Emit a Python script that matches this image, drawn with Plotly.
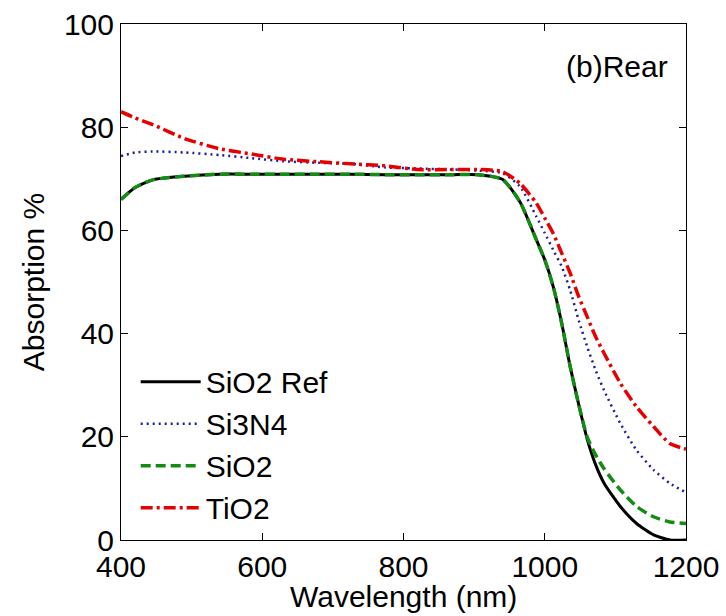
import plotly.graph_objects as go

wavelength = [400, 420, 445, 490, 540, 585, 630, 680, 725, 775, 820, 870, 905, 940, 965, 988,
              1000, 1012, 1024, 1036, 1048, 1060, 1072, 1084, 1107, 1130, 1154, 1177, 1200]
sio2_ref = [66.0, 68.3, 69.8, 70.5, 70.9, 70.9, 70.9, 70.9, 70.9, 70.8, 70.8, 70.8, 70.8, 69.9, 65.5, 58.2,
            54.3, 49.1, 42.0, 33.6, 26.3, 19.6, 14.6, 11.0, 6.5, 3.2, 1.0, 0.0, 0.0]
si3n4 = [74.4, 75.1, 75.3, 75.1, 74.6, 74.0, 73.4, 73.1, 72.9, 72.2, 72.0, 71.8, 71.6, 71.1, 68.5, 62.7,
         59.5, 56.2, 53.0, 48.4, 42.6, 37.5, 32.9, 29.0, 22.6, 17.4, 13.6, 11.0, 9.2]
sio2 = [66.0, 68.3, 69.8, 70.5, 70.9, 70.9, 70.9, 70.9, 70.9, 70.8, 70.8, 70.8, 70.8, 69.9, 65.5, 58.2,
        54.3, 49.1, 42.0, 33.6, 26.3, 20.0, 16.5, 13.8, 9.7, 6.5, 4.5, 3.5, 3.2]
tio2 = [83.0, 81.8, 80.5, 77.8, 75.8, 74.8, 73.8, 73.3, 72.9, 72.5, 71.8, 71.8, 71.8, 71.4, 69.1, 65.3,
        62.4, 59.4, 55.6, 51.7, 47.2, 43.3, 39.4, 36.2, 30.4, 25.8, 22.0, 18.7, 17.6]
x_ticks = [400, 600, 800, 1000, 1200]
y_ticks = [0, 20, 40, 60, 80, 100]

series = [
    ("SiO2 Ref", sio2_ref, "black", "solid", 3),
    ("Si3N4", si3n4, "#1c1c9c", "2px,4px", 2.5),
    ("SiO2", sio2, "#148c14", "10px,5px", 3.5),
    ("TiO2", tio2, "#e60000", "12px,4px,3px,4px", 3.5),
]

fig = go.Figure()
for name, vals, color, dash, w in series:
    fig.add_trace(go.Scatter(x=wavelength, y=vals, name=name, mode="lines",
                             line=dict(color=color, dash=dash, width=w, shape="spline", smoothing=0.6)))

font = "Liberation Sans, Arial, sans-serif"
axis_common = dict(showline=True, linecolor="black", linewidth=1, mirror="ticks", automargin=False,
                   ticks="inside", ticklen=7, tickcolor="black", showgrid=False, zeroline=False,
                   tickfont=dict(size=30, color="black", family=font))
fig.update_layout(
    width=726, height=616,
    margin=dict(l=121, r=40, t=24, b=76),
    paper_bgcolor="white", plot_bgcolor="white",
    font=dict(family=font, color="black"),
    xaxis=dict(range=[400, 1200], tickvals=x_ticks, **axis_common),
    yaxis=dict(range=[0, 100], tickvals=y_ticks,
               title=dict(text="Absorption %", font=dict(size=30), standoff=10), **axis_common),
    legend=dict(x=0.026, y=0.357, xanchor="left", yanchor="top", bgcolor="rgba(0,0,0,0)",
                font=dict(size=30, family=font), tracegroupgap=0, itemwidth=60),
    showlegend=True,
    annotations=[
        dict(text="(b)Rear", x=0.972, y=0.917, xref="paper", yref="paper",
             xanchor="right", yanchor="middle", showarrow=False,
             font=dict(size=30, family=font, color="black")),
        dict(text="Wavelength (nm)", x=0.5, y=-0.110, xref="paper", yref="paper",
             xanchor="center", yanchor="middle", showarrow=False,
             font=dict(size=30, family=font, color="black")),
    ],
)
fig.write_html("out.html", config={"displayModeBar": False},
               post_script="document.body.style.margin='0px';")
